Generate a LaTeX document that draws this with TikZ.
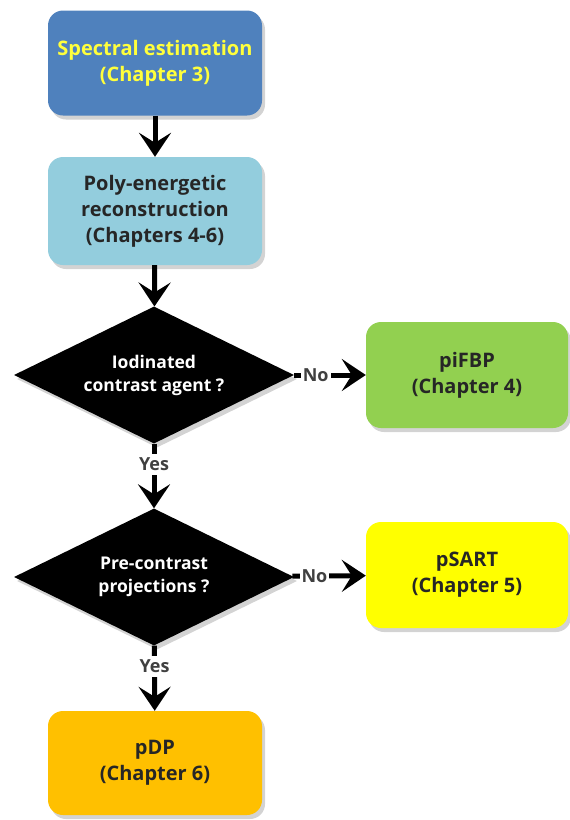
\documentclass[tikz,border=0pt]{standalone}
\usepackage{fontspec}
\setmainfont{Open Sans}
\usetikzlibrary{shapes.geometric, arrows.meta, shadows}
\definecolor{azul}{RGB}{79,129,189}
\definecolor{celeste}{RGB}{147,205,221}
\definecolor{verde}{RGB}{146,208,80}
\definecolor{amarillo}{RGB}{255,255,0}
\definecolor{naranja}{RGB}{255,192,0}
\definecolor{letra}{RGB}{38,38,38}
\definecolor{letraamarilla}{RGB}{255,255,60}
\tikzset{
    sombra/.style={drop shadow={shadow xshift=3pt, shadow yshift=-4pt, opacity=0.35}},
    caja/.style={rectangle, rounded corners=15pt, minimum width=214pt, minimum height=105pt,
        align=center, text=letra, sombra, font=\bfseries\fontsize{20}{26}\selectfont},
    rombo/.style={diamond, fill=black, text=white, aspect=2, inner sep=0pt,
        minimum width=280pt, minimum height=137pt, align=center, sombra,
        font=\bfseries\fontsize{17.5}{23}\selectfont},
    flecha/.style={line width=5pt, -{Stealth[length=24pt, width=32pt, inset=10pt]}},
    etiqueta/.style={fill=white, text=black!75, inner xsep=2pt, inner ysep=4pt,
        font=\bfseries\fontsize{18}{21}\selectfont},
}

\begin{document}
\begin{tikzpicture}[x=1pt, y=-1pt]
\useasboundingbox (0,0) rectangle (570,820);
% cajas
\node[caja, fill=azul, text=letraamarilla] (espectral) at (155,63) {Spectral estimation\\(Chapter 3)};
\node[caja, fill=celeste, minimum height=108pt] (poli) at (155,211) {Poly-energetic\\reconstruction\\(Chapters 4-6)};
\node[caja, fill=verde, minimum width=202pt, minimum height=106pt] (pifbp) at (467,375) {piFBP\\(Chapter 4)};
\node[caja, fill=amarillo, minimum width=202pt, minimum height=106pt] (psart) at (467,575) {pSART\\(Chapter 5)};
\node[caja, fill=naranja, minimum height=104pt] (pdp) at (155,763) {pDP\\(Chapter 6)};
% decisiones
\node[rombo] (yodo) at (154,375) {Iodinated\\contrast agent ?};
\node[rombo] (precontraste) at (154,577) {Pre-contrast\\projections ?};
% flechas
\draw[flecha] (espectral) -- (poli);
\draw[flecha] (poli) -- (yodo);
\draw[flecha] (yodo) -- node[etiqueta, pos=0.3] {No} (pifbp);
\draw[flecha] (yodo) -- node[etiqueta, pos=0.32] {Yes} (precontraste);
\draw[flecha] (precontraste) -- node[etiqueta, pos=0.3] {No} (psart);
\draw[flecha] (precontraste) -- node[etiqueta, pos=0.32] {Yes} (pdp);
\end{tikzpicture}
\end{document}
